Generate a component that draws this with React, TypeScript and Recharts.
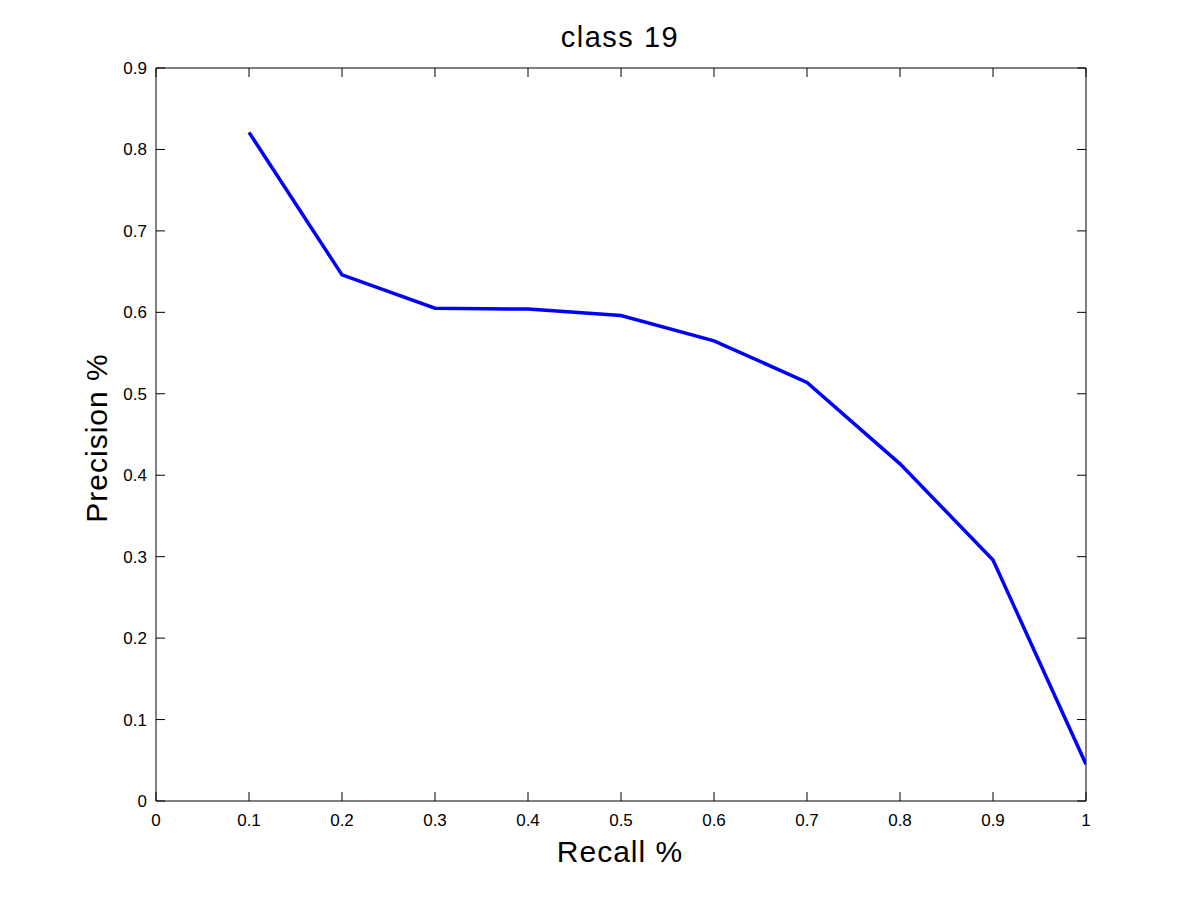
import { LineChart, Line, XAxis, YAxis } from "recharts";

// precision-recall curve, class 19
const recall = [0.1, 0.2, 0.3, 0.4, 0.5, 0.6, 0.7, 0.8, 0.9, 1.0];
const precision = [0.821, 0.646, 0.605, 0.604, 0.596, 0.565, 0.514, 0.414, 0.296, 0.045];

const xTicks = [0, 0.1, 0.2, 0.3, 0.4, 0.5, 0.6, 0.7, 0.8, 0.9, 1];
const yTicks = [0, 0.1, 0.2, 0.3, 0.4, 0.5, 0.6, 0.7, 0.8, 0.9];

const data = recall.map((r, i) => ({ recall: r, precision: precision[i] }));

const FONT = "'Liberation Sans', Arial, Helvetica, sans-serif";
const TICK = 9;

function fmt(v: number) {
  return Number(v.toFixed(1)).toString();
}

// ticks point inward (matlab style), labels sit outside
function BottomTick({ x, y, payload }: any) {
  return (
    <g>
      <line x1={x} y1={y} x2={x} y2={y - TICK} stroke="#000" />
      <text x={x} y={y + 25} textAnchor="middle" fontSize={17} fontFamily={FONT} fill="#000">
        {fmt(payload.value)}
      </text>
    </g>
  );
}

function LeftTick({ x, y, payload }: any) {
  return (
    <g>
      <line x1={x} y1={y} x2={x + TICK} y2={y} stroke="#000" />
      <text x={x - 9} y={y + 6} textAnchor="end" fontSize={17} fontFamily={FONT} fill="#000">
        {fmt(payload.value)}
      </text>
    </g>
  );
}

function TopTick({ x, y }: any) {
  return <line x1={x} y1={y} x2={x} y2={y + TICK} stroke="#000" />;
}

function RightTick({ x, y }: any) {
  return <line x1={x} y1={y} x2={x - TICK} y2={y} stroke="#000" />;
}

export default function App() {
  return (
    <div style={{ position: "absolute", left: 0, top: 0, width: 1200, height: 901, background: "#fff" }}>
      <LineChart width={1200} height={901} data={data} margin={{ top: 38, right: 84, bottom: 0, left: 0 }}>
        <XAxis
          dataKey="recall"
          type="number"
          domain={[0, 1]}
          ticks={xTicks}
          height={100}
          tickSize={0}
          tickMargin={0}
          tickLine={false}
          tick={<BottomTick />}
          axisLine={{ stroke: "#000" }}
          interval={0}
          allowDataOverflow
        />
        <XAxis
          xAxisId="top"
          dataKey="recall"
          orientation="top"
          type="number"
          domain={[0, 1]}
          ticks={xTicks}
          height={30}
          tickSize={0}
          tickMargin={0}
          tickLine={false}
          tick={<TopTick />}
          axisLine={{ stroke: "#000" }}
          interval={0}
          allowDataOverflow
        />
        <YAxis
          type="number"
          domain={[0, 0.9]}
          ticks={yTicks}
          width={156}
          tickSize={0}
          tickMargin={0}
          tickLine={false}
          tick={<LeftTick />}
          axisLine={{ stroke: "#000" }}
          interval={0}
          allowDataOverflow
        />
        <YAxis
          yAxisId="right"
          orientation="right"
          type="number"
          domain={[0, 0.9]}
          ticks={yTicks}
          width={30}
          tickSize={0}
          tickMargin={0}
          tickLine={false}
          tick={<RightTick />}
          axisLine={{ stroke: "#000" }}
          interval={0}
          allowDataOverflow
        />
        <Line
          dataKey="precision"
          stroke="#0000ff"
          strokeWidth={3.5}
          dot={false}
          isAnimationActive={false}
        />
        <text x={620} y={47} textAnchor="middle" fontSize={29} letterSpacing={1.5} fontFamily={FONT} fill="#000">
          class 19
        </text>
        <text x={620} y={862} textAnchor="middle" fontSize={30} letterSpacing={1} fontFamily={FONT} fill="#000">
          Recall %
        </text>
        <text
          transform="translate(107,438) rotate(-90)"
          textAnchor="middle"
          fontSize={30}
          letterSpacing={1}
          fontFamily={FONT}
          fill="#000"
        >
          Precision %
        </text>
      </LineChart>
    </div>
  );
}
